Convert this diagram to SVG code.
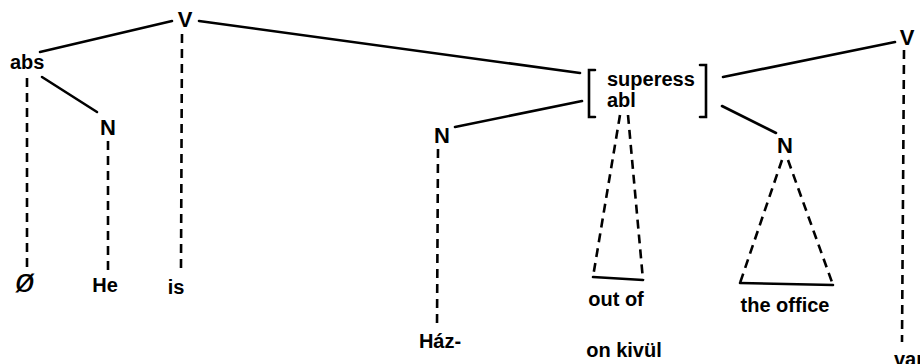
<svg xmlns="http://www.w3.org/2000/svg" width="920" height="364" viewBox="0 0 920 364">
  <style>
    text { font-family: "Liberation Sans", Arial, sans-serif; font-size: 20px; font-weight: bold; fill: #000; }
    .lbl { text-anchor: middle; }
    .cap { font-size: 22px; }
    .null { font-size: 34px; font-weight: normal; font-style: italic; }
    .solid { stroke: #000; stroke-width: 2.6; fill: none; stroke-linecap: round; }
    .dash { stroke: #000; stroke-width: 2.6; fill: none; stroke-dasharray: 9 6; }
  </style>
  <rect width="920" height="364" fill="#fff"/>

  <!-- tree branches -->
  <g id="connectors">
    <line class="solid" x1="40" y1="52" x2="172" y2="21"/>
    <line class="solid" x1="199" y1="21" x2="580" y2="73"/>
    <line class="solid" x1="42" y1="77" x2="97" y2="112"/>
    <line class="solid" x1="455" y1="127" x2="582" y2="101"/>
    <line class="solid" x1="723" y1="77" x2="895" y2="42"/>
    <line class="solid" x1="722" y1="106" x2="776" y2="133"/>

    <line class="dash" x1="27" y1="78" x2="27" y2="268"/>
    <line class="dash" x1="108" y1="141" x2="108" y2="270"/>
    <line class="dash" x1="182" y1="34" x2="181" y2="268"/>
    <line class="dash" x1="438" y1="149" x2="437" y2="328"/>
    <line class="dash" x1="904" y1="50" x2="902" y2="342"/>

    <!-- triangle under the case bracket -->
    <line class="dash" x1="620" y1="115" x2="593" y2="277"/>
    <line class="dash" x1="628" y1="115" x2="643" y2="280"/>
    <line class="solid" x1="593" y1="277" x2="643" y2="280"/>

    <!-- triangle under right N -->
    <line class="dash" x1="782" y1="160" x2="740" y2="283"/>
    <line class="dash" x1="788" y1="160" x2="833" y2="285"/>
    <line class="solid" x1="740" y1="283" x2="833" y2="285"/>
  </g>

  <g id="node-v1"><text class="lbl cap" x="185" y="27">V</text></g>
  <g id="node-abs"><text x="10" y="69">abs</text></g>
  <g id="node-n1"><text class="lbl cap" x="108" y="135">N</text></g>
  <g id="node-null"><text class="lbl null" x="25" y="292">ø</text></g>
  <g id="node-he"><text class="lbl" x="105" y="292">He</text></g>
  <g id="node-is"><text class="lbl" x="176" y="294">is</text></g>

  <g id="node-n2"><text class="lbl cap" x="442" y="143">N</text></g>
  <g id="node-haz"><text class="lbl" x="440" y="348">Ház-</text></g>

  <g id="node-case">
    <path class="solid" d="M595,70 H589 V117 H595"/>
    <path class="solid" d="M700,65 H706 V117 H700"/>
    <text x="607" y="86">superess</text>
    <text x="607" y="107">abl</text>
  </g>
  <g id="node-outof"><text class="lbl" x="616" y="306">out of</text></g>
  <g id="node-onkivul"><text class="lbl" x="624" y="357">on kivül</text></g>

  <g id="node-n3"><text class="lbl cap" x="785" y="153">N</text></g>
  <g id="node-office"><text class="lbl" x="785" y="312">the office</text></g>

  <g id="node-v2"><text class="lbl cap" x="907" y="45">V</text></g>
  <g id="node-van"><text x="894" y="366">van</text></g>
</svg>
